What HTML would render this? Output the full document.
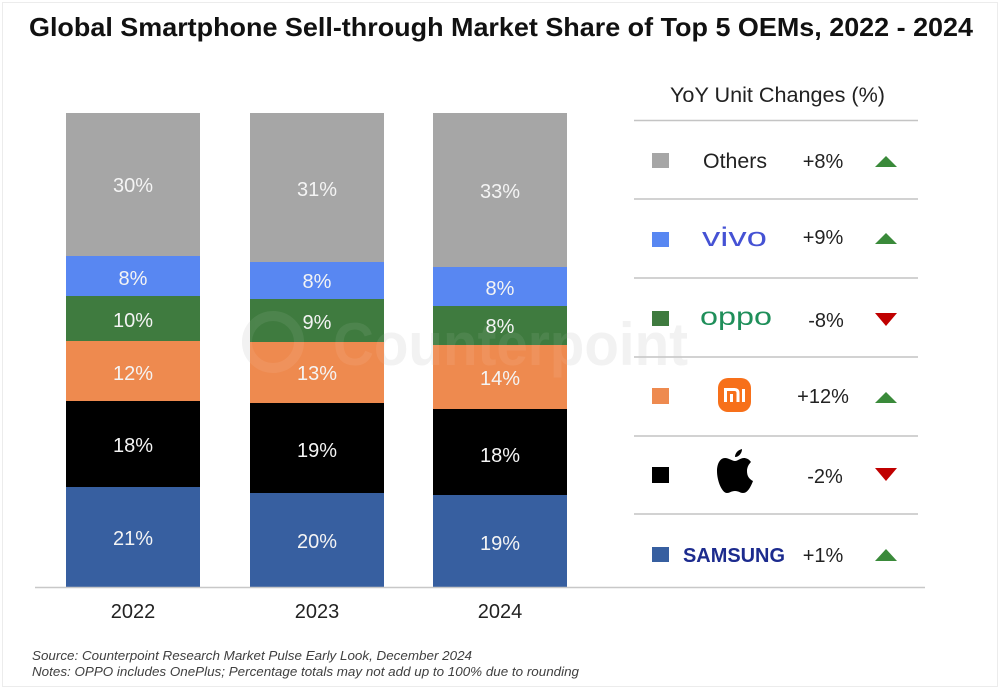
<!DOCTYPE html>
<html>
<head>
<meta charset="utf-8">
<style>
  html,body{margin:0;padding:0;background:#fff;}
  svg{display:block;}
  text{font-family:"Liberation Sans", Arial, sans-serif;}
</style>
</head>
<body>
<svg width="1000" height="689" viewBox="0 0 1000 689" xmlns="http://www.w3.org/2000/svg">
  <rect x="0" y="0" width="1000" height="689" fill="#ffffff"/>
  <rect x="2.5" y="2.5" width="995" height="684" fill="none" stroke="#ececec" stroke-width="1"/>

  <!-- Title -->
  <text x="29" y="36" font-size="26" font-weight="bold" fill="#111" textLength="944" lengthAdjust="spacingAndGlyphs">Global Smartphone Sell-through Market Share of Top 5 OEMs, 2022 - 2024</text>

  <!-- watermark (behind) -->
  <g>
    <circle cx="273" cy="342" r="26" fill="none" stroke="#f1f1f1" stroke-width="10"/>
    <text x="333" y="365" font-size="60" font-weight="bold" fill="#f1f1f1" textLength="355" lengthAdjust="spacingAndGlyphs">Counterpoint</text>
  </g>

  <!-- Bar 1 (2022) -->
  <rect x="66" y="113" width="134" height="143" fill="#a6a6a6"/>
  <rect x="66" y="256" width="134" height="40" fill="#5887f2"/>
  <rect x="66" y="296" width="134" height="45" fill="#3f7b3f"/>
  <rect x="66" y="341" width="134" height="60" fill="#ee8a4f"/>
  <rect x="66" y="401" width="134" height="86" fill="#000000"/>
  <rect x="66" y="487" width="134" height="100" fill="#375fa0"/>

  <!-- Bar 2 (2023) -->
  <rect x="250" y="113" width="134" height="149" fill="#a6a6a6"/>
  <rect x="250" y="262" width="134" height="37" fill="#5887f2"/>
  <rect x="250" y="299" width="134" height="43" fill="#3f7b3f"/>
  <rect x="250" y="342" width="134" height="61" fill="#ee8a4f"/>
  <rect x="250" y="403" width="134" height="90" fill="#000000"/>
  <rect x="250" y="493" width="134" height="94" fill="#375fa0"/>

  <!-- Bar 3 (2024) -->
  <rect x="433" y="113" width="134" height="154" fill="#a6a6a6"/>
  <rect x="433" y="267" width="134" height="39" fill="#5887f2"/>
  <rect x="433" y="306" width="134" height="39" fill="#3f7b3f"/>
  <rect x="433" y="345" width="134" height="64" fill="#ee8a4f"/>
  <rect x="433" y="409" width="134" height="86" fill="#000000"/>
  <rect x="433" y="495" width="134" height="92" fill="#375fa0"/>

  <!-- watermark (front, lightening) -->
  <g opacity="0.07">
    <circle cx="273" cy="342" r="26" fill="none" stroke="#ffffff" stroke-width="10"/>
    <text x="333" y="365" font-size="60" font-weight="bold" fill="#ffffff" textLength="355" lengthAdjust="spacingAndGlyphs">Counterpoint</text>
  </g>

  <!-- Bar labels -->
  <g font-size="20" fill="#f4f4f4" text-anchor="middle">
    <text x="133" y="192">30%</text>
    <text x="133" y="285">8%</text>
    <text x="133" y="327">10%</text>
    <text x="133" y="380">12%</text>
    <text x="133" y="452">18%</text>
    <text x="133" y="545">21%</text>

    <text x="317" y="196">31%</text>
    <text x="317" y="288">8%</text>
    <text x="317" y="329">9%</text>
    <text x="317" y="380">13%</text>
    <text x="317" y="457">19%</text>
    <text x="317" y="548">20%</text>

    <text x="500" y="198">33%</text>
    <text x="500" y="295">8%</text>
    <text x="500" y="333">8%</text>
    <text x="500" y="385">14%</text>
    <text x="500" y="462">18%</text>
    <text x="500" y="550">19%</text>
  </g>

  <!-- Axis line -->
  <line x1="35" y1="587.5" x2="925" y2="587.5" stroke="#c8c8c8" stroke-width="1.5"/>

  <!-- Year labels -->
  <g font-size="20" fill="#222" text-anchor="middle">
    <text x="133" y="618">2022</text>
    <text x="317" y="618">2023</text>
    <text x="500" y="618">2024</text>
  </g>

  <!-- Footer -->
  <g font-size="13" font-style="italic" fill="#404040">
    <text x="32" y="660" textLength="440" lengthAdjust="spacingAndGlyphs">Source: Counterpoint Research Market Pulse Early Look, December 2024</text>
    <text x="32" y="676" textLength="547" lengthAdjust="spacingAndGlyphs">Notes: OPPO includes OnePlus; Percentage totals may not add up to 100% due to rounding</text>
  </g>

  <!-- Legend panel -->
  <text x="670" y="102" font-size="21" fill="#222" textLength="215" lengthAdjust="spacingAndGlyphs">YoY Unit Changes (%)</text>
  <g stroke="#c4c4c4" stroke-width="1.5">
    <line x1="634" y1="120.5" x2="918" y2="120.5"/>
    <line x1="634" y1="199" x2="918" y2="199"/>
    <line x1="634" y1="278" x2="918" y2="278"/>
    <line x1="634" y1="357" x2="918" y2="357"/>
    <line x1="634" y1="436" x2="918" y2="436"/>
    <line x1="634" y1="514" x2="918" y2="514"/>
  </g>

  <!-- squares -->
  <rect x="652" y="153" width="17" height="15" fill="#a6a6a6"/>
  <rect x="652" y="232" width="17" height="15" fill="#5887f2"/>
  <rect x="652" y="311" width="17" height="15" fill="#3f7b3f"/>
  <rect x="652" y="388" width="17" height="16" fill="#ee8a4f"/>
  <rect x="652" y="467" width="17" height="16" fill="#000000"/>
  <rect x="652" y="547" width="17" height="15" fill="#375fa0"/>

  <!-- names -->
  <text x="703" y="168" font-size="21" fill="#222" textLength="64" lengthAdjust="spacingAndGlyphs">Others</text>
  <text x="702" y="246" font-size="27" fill="#4552d4" textLength="65" lengthAdjust="spacingAndGlyphs">vivo</text>
  <text x="700" y="325" font-size="25" fill="#1f8f5a" textLength="72" lengthAdjust="spacingAndGlyphs">oppo</text>

  <!-- Xiaomi logo -->
  <rect x="718" y="378" width="33" height="34" rx="10" ry="10" fill="#f7701a"/>
  <path d="M725.5,402 V389.5 H734.5 Q738,389.5 738,393 V402" fill="none" stroke="#fff" stroke-width="3"/>
  <line x1="731.5" y1="394" x2="731.5" y2="402" stroke="#fff" stroke-width="3"/>
  <line x1="743.5" y1="389" x2="743.5" y2="402" stroke="#fff" stroke-width="3"/>

  <!-- Apple logo -->
  <path d="M735,461 C732,461 729,458 725,458 C720,458 717,464 717,471 C717,481 722,493 727,493 C730,493 731,491 735,491 C739,491 740,493 743,493 C748,493 751,486 753,481 C749,479 747,476 747,471 C747,467 749,464 751,462 C749,459 746,458 744,458 C740,458 738,461 735,461 Z" fill="#000"/>
  <path d="M735,457 C735,453 738,450 742,449 C742,453 739,457 735,457 Z" fill="#000"/>

  <!-- Samsung -->
  <text x="683" y="562" font-size="20" font-weight="bold" fill="#1c2b8e" textLength="102" lengthAdjust="spacingAndGlyphs">SAMSUNG</text>

  <!-- values -->
  <g font-size="20" fill="#222" text-anchor="middle">
    <text x="823" y="168">+8%</text>
    <text x="823" y="244">+9%</text>
    <text x="826" y="327">-8%</text>
    <text x="823" y="403">+12%</text>
    <text x="825" y="483">-2%</text>
    <text x="823" y="562">+1%</text>
  </g>

  <!-- arrows -->
  <polygon points="875,167 897,167 886,156" fill="#3a8a3a"/>
  <polygon points="875,244 897,244 886,233" fill="#3a8a3a"/>
  <polygon points="875,313 897,313 886,326" fill="#c00000"/>
  <polygon points="875,403 897,403 886,392" fill="#3a8a3a"/>
  <polygon points="875,468 897,468 886,481" fill="#c00000"/>
  <polygon points="875,561 897,561 886,549" fill="#3a8a3a"/>
</svg>
</body>
</html>
